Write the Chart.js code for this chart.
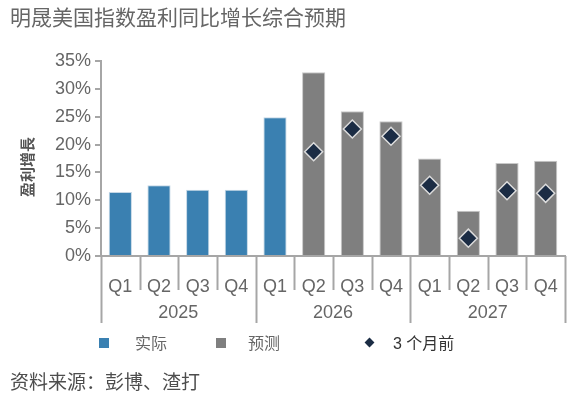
<!DOCTYPE html>
<html>
<head>
<meta charset="utf-8">
<script src="https://cdn.jsdelivr.net/npm/chart.js@4/dist/chart.umd.min.js"></script>
<style>
  html, body { margin: 0; padding: 0; background: #fff; }
  body { width: 588px; height: 410px; position: relative; overflow: hidden;
         font-family: "Liberation Sans", Arial, "Noto Sans CJK SC", sans-serif; }
  #wrap { position: absolute; left: 0; top: 0; width: 588px; height: 410px; }
  .txt { position: absolute; white-space: nowrap; line-height: 1; }
  #title { left: 10px; top: 7px; font-size: 21px; color: #666666; }
  #source { left: 10px; top: 373px; font-size: 19px; color: #4d4d4d; }
  .leg { position: absolute; top: 336px; font-size: 16px; color: #666666; line-height: 1; }
  .sq { position: absolute; width: 10px; height: 10px; top: 338px; }
  .dm { position: absolute; width: 7px; height: 7px; background: #1b2c44; transform: rotate(45deg); top: 339px; }
</style>
</head>
<body>
<div id="wrap"><canvas id="c" width="588" height="410"></canvas></div>
<div id="title" class="txt">明晟美国指数盈利同比增长综合预期</div>
<div class="sq" style="left:99px;background:#3a80b1"></div>
<div class="leg" style="left:135px">实际</div>
<div class="sq" style="left:216px;background:#7f7f7f"></div>
<div class="leg" style="left:248px">预测</div>
<div class="dm" style="left:366px"></div>
<div class="leg" style="left:393px;color:#333">3 个月前</div>
<div id="source" class="txt">资料来源：彭博、渣打</div>
<script>
const quarters = ["Q1","Q2","Q3","Q4","Q1","Q2","Q3","Q4","Q1","Q2","Q3","Q4"];
const years = ["2025","2026","2027"];
const actualValues   = [11.5, 12.7, 11.9, 11.9, 24.9, null, null, null, null, null, null, null];
const forecastValues = [null, null, null, null, null, 33.0, 26.0, 24.2, 17.5, 8.1, 16.7, 17.1];
const threeMonthsAgo = [null, null, null, null, null, 18.7, 22.8, 21.5, 12.7, 3.2, 11.7, 11.25];
const yTicks = [0, 5, 10, 15, 20, 25, 30, 35];
const yAxisTitle = "盈利增長";

const FONT = '"Liberation Sans", Arial, "Noto Sans CJK SC", sans-serif';
const AXIS = '#a6a6a6';
const TXT = '#666666';

const overlay = {
  id: 'overlay',
  afterDraw(chart) {
    const ctx = chart.ctx;
    const x = chart.scales.x;
    const area = chart.chartArea;
    const n = quarters.length;
    const step = (x.getPixelForValue(1) - x.getPixelForValue(0));
    ctx.save();
    ctx.strokeStyle = AXIS;
    ctx.lineWidth = 2;
    for (let i = 0; i <= n; i++) {
      const px = x.getPixelForValue(i) - step / 2;
      const long = (i % 4 === 0);
      ctx.beginPath();
      ctx.moveTo(Math.round(px) + 0.5, area.bottom);
      ctx.lineTo(Math.round(px) + 0.5, long ? area.bottom + 67 : area.bottom + 34);
      ctx.stroke();
    }
    ctx.fillStyle = TXT;
    ctx.font = '18px ' + FONT;
    ctx.textAlign = 'center';
    ctx.textBaseline = 'middle';
    years.forEach((yr, g) => {
      const a = x.getPixelForValue(g * 4) - step / 2;
      const b = x.getPixelForValue(g * 4 + 3) + step / 2;
      ctx.fillText(yr, (a + b) / 2, area.bottom + 57);
    });
    ctx.translate(29, 167);
    ctx.rotate(-Math.PI / 2);
    ctx.fillStyle = '#555555';
    ctx.font = 'bold 15px ' + FONT;
    ctx.fillText(yAxisTitle, 0, 0);
    ctx.restore();
  }
};

new Chart(document.getElementById('c'), {
  type: 'bar',
  data: {
    labels: quarters,
    datasets: [
      { label: '实际', data: actualValues, backgroundColor: '#3a80b1', borderColor: '#c4d7e6',
        borderWidth: 1, grouped: false, barPercentage: 0.6, categoryPercentage: 1, order: 2 },
      { label: '预测', data: forecastValues, backgroundColor: '#7f7f7f', borderColor: '#c8c8c8',
        borderWidth: 1, grouped: false, barPercentage: 0.6, categoryPercentage: 1, order: 2 },
      { label: '3 个月前', type: 'line', data: threeMonthsAgo, showLine: false,
        pointStyle: 'rectRot', pointRadius: 9, pointHoverRadius: 9,
        pointBackgroundColor: '#1b2c44', pointBorderColor: '#dcdcdc', pointBorderWidth: 1.5, order: 1 }
    ]
  },
  options: {
    responsive: false,
    animation: false,
    devicePixelRatio: 1,
    layout: { padding: { top: 61, right: 23, bottom: 0, left: 0 } },
    plugins: { legend: { display: false }, tooltip: { enabled: false } },
    scales: {
      x: {
        offset: true,
        grid: { display: false },
        border: { display: true, color: AXIS, width: 2 },
        ticks: { color: TXT, font: { family: FONT, size: 18 }, padding: 12, maxRotation: 0, autoSkip: false },
        afterFit(s) { s.height = 154; }
      },
      y: {
        min: 0, max: 35,
        afterBuildTicks(s) { s.ticks = yTicks.map(v => ({ value: v })); },
        grid: { drawOnChartArea: false, tickLength: 6, color: AXIS, lineWidth: 2 },
        border: { display: true, color: AXIS, width: 2 },
        ticks: { color: TXT, font: { family: FONT, size: 18 }, padding: 4,
                 callback: v => v + '%' },
        afterFit(s) { s.width = 101; }
      }
    }
  },
  plugins: [overlay]
});
</script>
</body>
</html>
